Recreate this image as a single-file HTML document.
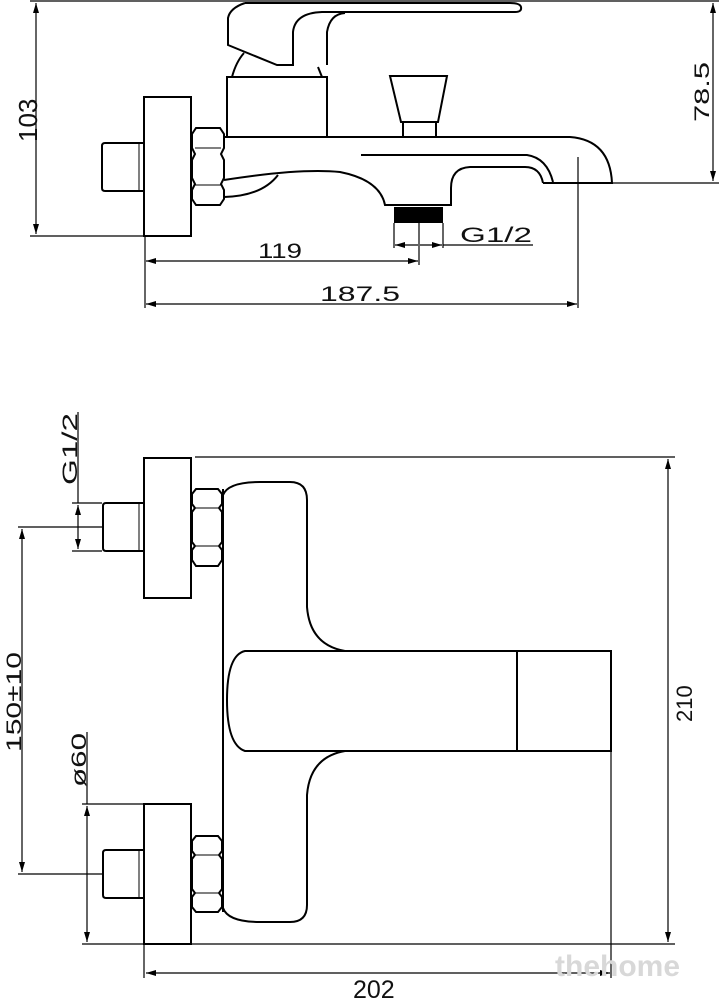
<!DOCTYPE html>
<html><head><meta charset="utf-8"><style>
html,body{margin:0;padding:0;background:#fff;}
svg{display:block;}
text{font-family:"Liberation Sans",sans-serif;fill:#111;}
</style></head><body>
<svg width="719" height="1000" viewBox="0 0 719 1000" xmlns="http://www.w3.org/2000/svg">
<defs>
<marker id="a" viewBox="0 0 10 6" refX="10" refY="3" markerWidth="10" markerHeight="6" orient="auto-start-reverse" markerUnits="userSpaceOnUse"><path d="M0,0 L10,3 L0,6 Z" fill="#000"/></marker>
</defs>
<g fill="none" stroke="#000" stroke-width="1.2">
<line x1="30" y1="1" x2="719" y2="1"/>
<line x1="30" y1="236" x2="145" y2="236"/>
<line x1="36" y1="3" x2="36" y2="234" marker-start="url(#a)" marker-end="url(#a)"/>
<line x1="612" y1="183" x2="719" y2="183"/>
<line x1="713" y1="3" x2="713" y2="181" marker-start="url(#a)" marker-end="url(#a)"/>
<line x1="145" y1="236" x2="145" y2="308"/>
<line x1="146" y1="261" x2="418" y2="261" marker-start="url(#a)" marker-end="url(#a)"/>
<line x1="419" y1="223" x2="419" y2="265"/>
<line x1="146" y1="304" x2="577" y2="304" marker-start="url(#a)" marker-end="url(#a)"/>
<line x1="578" y1="157" x2="578" y2="308"/>
<line x1="394" y1="223" x2="394" y2="248"/>
<line x1="443" y1="223" x2="443" y2="248"/>
<line x1="395" y1="245" x2="418" y2="245" marker-start="url(#a)"/>
<line x1="420" y1="245" x2="442" y2="245" marker-end="url(#a)"/>
<line x1="443" y1="245" x2="533" y2="245"/>
<g stroke-width="2">
<rect x="144" y="97" width="47" height="139"/>
<path d="M144,143 H105 Q102,143 102,146 V188 Q102,191 105,191 H144"/>
<line x1="139" y1="143" x2="139" y2="191" stroke-width="1"/>
<path d="M196,128 H220 L224,134 V148 L221,154 L224,160 V178 L221,184 L224,190 V199 L220,205 H196 L192,199 V190 L195,184 L192,178 V160 L195,154 L192,148 V134 Z"/>
<line x1="195" y1="148" x2="221" y2="148" stroke-width="1"/>
<line x1="195" y1="185" x2="221" y2="185" stroke-width="1"/>
<rect x="227" y="77" width="100" height="60"/>
<path d="M232,77 Q236,62 244,53"/>
<path d="M318,67 L322,77"/>
<path d="M245,3 Q230,8 228,18 V45 L277,65 H293 V32 Q295,13 322,12 H515 Q522,12 521,7 Q520,3 510,3 H245"/>
<path d="M327,65 V32 Q330,14 345,13"/>
<path d="M390,76 H447 L438,122 H401 Z"/>
<path d="M403,122 V137 M436,122 V137"/>
<path d="M224,137 H570 Q610,140 612,183 H543"/>
<path d="M361,155 H527 Q547,158 553,182"/>
<path d="M543,183 Q540,167 525,167 H470 Q451,168 451,188 V205 H385 Q380,180 340,172 Q300,168 224,180"/>
<path d="M224,197 Q262,196 278,175"/>
</g>
<rect x="394" y="207" width="49" height="16" fill="#000" stroke="none"/>
<text x="258" y="258" font-size="21" textLength="44" lengthAdjust="spacingAndGlyphs" stroke="none">119</text>
<text x="320" y="301" font-size="21" textLength="80" lengthAdjust="spacingAndGlyphs" stroke="none">187.5</text>
<text x="460" y="242" font-size="21" textLength="72" lengthAdjust="spacingAndGlyphs" stroke="none">G1/2</text>
<text x="0" y="0" font-size="21" textLength="60" lengthAdjust="spacingAndGlyphs" stroke="none" transform="translate(709,122) rotate(-90)">78.5</text>
<text x="0" y="0" font-size="26" stroke="none" transform="translate(37,142) rotate(-90)">103</text>

<line x1="195" y1="457" x2="675" y2="457"/>
<line x1="82" y1="944" x2="675" y2="944"/>
<line x1="668" y1="459" x2="668" y2="942" marker-start="url(#a)" marker-end="url(#a)"/>
<line x1="611" y1="751" x2="611" y2="978"/>
<line x1="144" y1="944" x2="144" y2="978"/>
<line x1="146" y1="973" x2="610" y2="973" marker-start="url(#a)" marker-end="url(#a)"/>
<line x1="72" y1="503" x2="102" y2="503"/>
<line x1="72" y1="551" x2="102" y2="551"/>
<line x1="78" y1="412" x2="78" y2="503"/>
<line x1="78" y1="505" x2="78" y2="549" marker-start="url(#a)" marker-end="url(#a)"/>
<line x1="18" y1="527" x2="102" y2="527"/>
<line x1="18" y1="874" x2="102" y2="874"/>
<line x1="22" y1="529" x2="22" y2="872" marker-start="url(#a)" marker-end="url(#a)"/>
<line x1="82" y1="804" x2="144" y2="804"/>
<line x1="87" y1="732" x2="87" y2="804"/>
<line x1="87" y1="806" x2="87" y2="942" marker-start="url(#a)" marker-end="url(#a)"/>
<g stroke-width="2">
<rect x="144" y="458" width="47" height="140"/>
<rect x="144" y="804" width="47" height="140"/>
<path d="M144,503 H106 Q103,503 103,506 V548 Q103,551 106,551 H144"/>
<line x1="139" y1="503" x2="139" y2="551" stroke-width="1"/>
<path d="M144,850 H106 Q103,850 103,853 V895 Q103,898 106,898 H144"/>
<line x1="139" y1="850" x2="139" y2="898" stroke-width="1"/>
<path d="M196,489 H218 L222,494 V504 L219,508 L222,512 V542 L219,546 L222,550 V560 L218,566 H196 L192,560 V550 L195,546 L192,542 V512 L195,508 L192,504 V494 Z"/>
<line x1="195" y1="508" x2="219" y2="508" stroke-width="1"/>
<line x1="195" y1="546" x2="219" y2="546" stroke-width="1"/>
<path d="M196,836 H218 L222,841 V851 L219,855 L222,859 V889 L219,893 L222,897 V907 L218,912 H196 L192,907 V897 L195,893 L192,889 V859 L195,855 L192,851 V841 Z"/>
<line x1="195" y1="855" x2="219" y2="855" stroke-width="1"/>
<line x1="195" y1="893" x2="219" y2="893" stroke-width="1"/>
<path d="M223,495 Q228,482 260,482 H290 Q307,482 307,500 V607 Q310,645 345,651 H517 V751 H345 Q310,757 307,795 V905 Q307,922 290,922 H260 Q228,922 223,908"/>
<line x1="223" y1="489" x2="223" y2="912"/>
<path d="M345,651 H245 Q227,655 227,700 Q227,745 245,751 H345"/>
<rect x="517" y="651" width="94" height="100"/>
</g>
<text x="0" y="0" font-size="21" textLength="72" lengthAdjust="spacingAndGlyphs" stroke="none" transform="translate(77,485) rotate(-90)">G1/2</text>
<text x="0" y="0" font-size="21" textLength="100" lengthAdjust="spacingAndGlyphs" stroke="none" transform="translate(21,752) rotate(-90)">150±10</text>
<text x="0" y="0" font-size="21" textLength="54" lengthAdjust="spacingAndGlyphs" stroke="none" transform="translate(86,787) rotate(-90)">ø60</text>
<text x="0" y="0" font-size="22" stroke="none" transform="translate(692,722) rotate(-90)">210</text>
<text x="353" y="998" font-size="25" stroke="none">202</text>
<text x="555" y="976" font-size="30" font-weight="bold" stroke="none" style="fill:#d8d8d8">thehome</text>
</g>
</svg>
</body></html>
